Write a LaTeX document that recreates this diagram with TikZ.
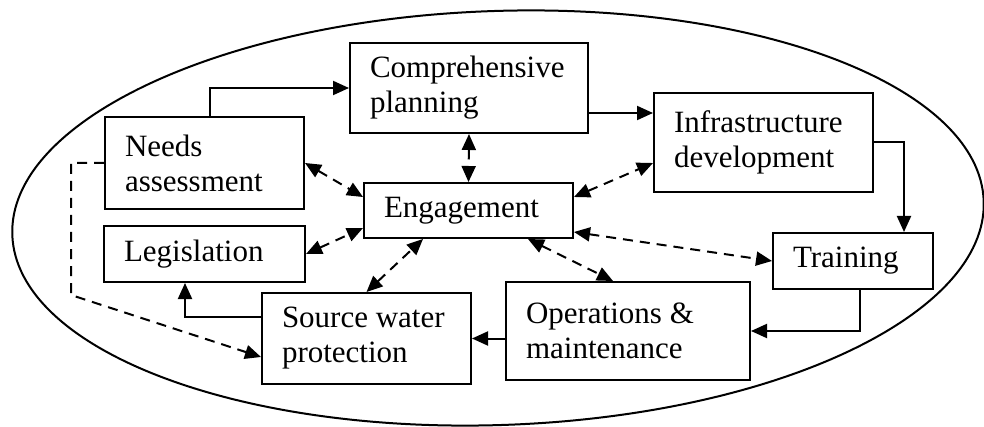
\documentclass[tikz,border=0pt]{standalone}
\usepackage{fontspec}
\setmainfont{Liberation Serif}
\usetikzlibrary{arrows.meta,calc,positioning}

\tikzset{
  blk/.style={draw, line width=1pt, align=flush left, inner xsep=10pt, inner ysep=3pt,
    font=\fontsize{15.5}{17.5}\selectfont},
  flow/.style={line width=1pt, -{Triangle[length=8pt,width=7pt]}},
  link/.style={line width=1pt, dash pattern=on 5pt off 3.5pt,
    {Triangle[length=8pt,width=7pt]}-{Triangle[length=8pt,width=7pt]}},
  oneway/.style={line width=1pt, dash pattern=on 5pt off 3.5pt,
    -{Triangle[length=8pt,width=7pt]}},
}

\begin{document}
\begin{tikzpicture}[x=0.5pt,y=-0.5pt]
\useasboundingbox (0,0) rectangle (984,427);
% contorno
\draw[line width=1pt, rotate around={2:(498,218)}] (498,218) ellipse [x radius=486, y radius=207];

% blocchi
\node[blk, text width=79.5pt, minimum height=46pt] (needs) at (204.5,163) {Needs\\assessment};
\node[blk, text width=99pt, minimum height=45pt] (comp) at (469,88) {Comprehensive\\planning};
\node[blk, text width=89.5pt, minimum height=49.5pt] (infra) at (763.5,142.5) {Infrastructure\\development};
\node[blk, text width=84.5pt, minimum height=27.5pt] (engage) at (468.5,210.5) {Engagement};
\node[blk, text width=80.5pt, minimum height=28pt] (legis) at (204.5,254) {Legislation};
\node[blk, text width=84.5pt, minimum height=45.5pt] (source) at (366.5,338.5) {Source water\\protection};
\node[blk, text width=102pt, minimum height=49pt] (ops) at (628,331) {Operations \&\\maintenance};
\node[blk, text width=60pt, minimum height=28pt] (train) at (853,261) {Training};
\coordinate (nsbend) at (71,295);

% ciclo principale
\draw[flow] ([xshift=2.75pt]needs.north) |- (comp.west);
\draw[flow] ([yshift=-12.5pt]comp.east) -- ([yshift=-12.5pt]comp.east -| infra.west);
\draw[flow] (infra.east) -| ([xshift=25.5pt]train.north);
\draw[flow] ([xshift=3.5pt]train.south) |- (ops.east);
\draw[flow] (ops.west |- source.east) -- (source.east);
\draw[flow] ([yshift=10.75pt]source.west) -| ([xshift=-9.75pt]legis.south);
\draw[oneway] (needs.west) -| (nsbend) -- ([yshift=-9.25pt]source.west);

% legami con engagement
\draw[link] (comp.south) -- (engage.north);
\draw[link] (needs.east) -- ([yshift=6.75pt]engage.west);
\draw[link] (legis.east) -- ([yshift=-8.75pt]engage.west);
\draw[link] (source.north) -- ([xshift=-22.75pt]engage.south);
\draw[link] ([xshift=29.75pt]engage.south) -- ([xshift=-7.5pt]ops.north);
\draw[link] ([yshift=-10.75pt]engage.east) -- (train.west);
\draw[link] ([yshift=6.75pt]engage.east) -- ([yshift=-10.25pt]infra.west);
\end{tikzpicture}
\end{document}
